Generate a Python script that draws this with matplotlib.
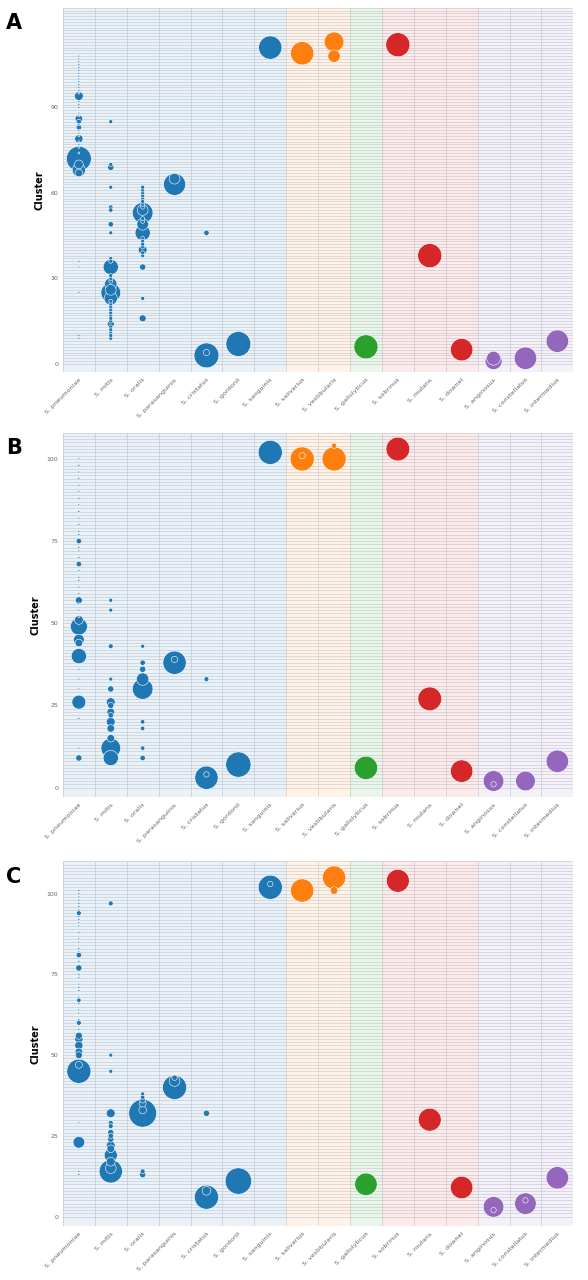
import matplotlib.pyplot as plt
import numpy as np

species = ["S. pneumoniae", "S. mitis", "S. oralis", "S. parasanguinis", "S. cristatus",
           "S. gordonii", "S. sanguinis", "S. salivarius", "S. vestibularis", "S. gallolyticus",
           "S. sobrinus", "S. mutans", "S. downei", "S. anginosus", "S. constellatus",
           "S. intermedius"]
group_of = [0, 0, 0, 0, 0, 0, 0, 1, 1, 2, 3, 3, 3, 4, 4, 4]
group_colors = ["#1f77b4", "#ff7f0e", "#2ca02c", "#d62728", "#9467bd"]

# panel A: (species index, cluster, size)
pts_a = [(0, c, 2) for c in [10, 9, 25, 34, 36, 74, 76, 77, 78, 80, 81, 82, 84, 87, 88, 90, 91, 92,
                              95, 96, 97, 98, 99, 100, 101, 102, 103, 104, 105, 106, 107, 108]]
pts_a += [(0, 72, 320), (0, 68, 90), (0, 67, 30), (0, 94, 40), (0, 86, 30), (0, 79, 35), (0, 83, 15),
          (0, 85, 12), (0, 70, 40)]
pts_a += [(1, c, 8) for c in [9, 10, 11, 12, 13, 15, 16, 17, 18, 19, 20, 21, 22, 29, 30, 31, 36, 37]]
pts_a += [(1, 85, 8), (1, 70, 8), (1, 69, 20), (1, 62, 8), (1, 55, 10), (1, 54, 10), (1, 49, 15),
          (1, 46, 8), (1, 25, 200), (1, 23, 90), (1, 34, 120), (1, 28, 80), (1, 14, 25), (1, 26, 60)]
pts_a += [(2, c, 8) for c in [62, 61, 60, 59, 58, 57, 56, 55, 51, 50, 44, 43, 42, 41, 39, 38]]
pts_a += [(2, 53, 220), (2, 46, 120), (2, 49, 70), (2, 40, 40), (2, 34, 20), (2, 23, 8), (2, 16, 25),
          (2, 54, 60)]
pts_a += [(3, 63, 250), (3, 65, 60), (4, 3, 320), (4, 4, 20), (4, 46, 15), (5, 7, 320),
          (6, 111, 280), (7, 109, 280), (8, 113, 200), (8, 108, 80), (9, 6, 300), (10, 112, 300),
          (11, 38, 300), (12, 5, 260), (13, 1, 150), (13, 2, 100), (14, 2, 260), (15, 8, 260)]

pts_b = [(0, c, 2) for c in [12, 21, 30, 33, 36, 52, 54, 56, 59, 61, 63, 64, 66, 70, 72, 73, 77, 78,
                              80, 82, 84, 86, 88, 90, 92, 94, 96, 98, 100]]
pts_b += [(0, 49, 150), (0, 40, 120), (0, 45, 60), (0, 26, 100), (0, 9, 20), (0, 57, 25), (0, 68, 15),
          (0, 75, 15), (0, 51, 40), (0, 44, 30)]
pts_b += [(1, 57, 8), (1, 54, 8), (1, 43, 12), (1, 33, 8), (1, 30, 20), (1, 26, 40), (1, 23, 30),
          (1, 20, 40), (1, 18, 30), (1, 15, 30), (1, 12, 200), (1, 9, 120), (1, 22, 15), (1, 25, 20)]
pts_b += [(2, 43, 8), (2, 38, 15), (2, 33, 80), (2, 30, 220), (2, 36, 20), (2, 20, 10), (2, 18, 10),
          (2, 12, 10), (2, 9, 15)]
pts_b += [(3, 38, 280), (3, 39, 20), (4, 3, 280), (4, 4, 15), (4, 33, 12), (5, 7, 330),
          (6, 102, 300), (7, 100, 300), (7, 101, 20), (8, 100, 300), (8, 104, 15), (9, 6, 280),
          (10, 103, 290), (11, 27, 290), (12, 5, 260), (13, 2, 220), (13, 1, 15), (14, 2, 200), (15, 8, 260)]

pts_c = [(0, c, 2) for c in [13, 14, 29, 58, 61, 63, 64, 66, 68, 70, 71, 72, 74, 75, 79, 82, 83, 85,
                              86, 88, 90, 91, 92, 93, 95, 96, 97, 98, 99, 100, 101]]
pts_c += [(0, 45, 300), (0, 23, 70), (0, 47, 25), (0, 50, 25), (0, 51, 30), (0, 53, 35), (0, 55, 35),
          (0, 56, 25), (0, 60, 12), (0, 67, 10), (0, 77, 20), (0, 81, 15), (0, 94, 12)]
pts_c += [(1, 97, 12), (1, 50, 8), (1, 45, 8), (1, 32, 40), (1, 29, 12), (1, 28, 12), (1, 26, 20),
          (1, 25, 15), (1, 24, 20), (1, 22, 40), (1, 21, 30), (1, 19, 90), (1, 17, 40), (1, 15, 60),
          (1, 14, 280)]
pts_c += [(2, 38, 8), (2, 37, 10), (2, 36, 15), (2, 35, 25), (2, 33, 30), (2, 32, 400), (2, 14, 12),
          (2, 13, 20)]
pts_c += [(3, 40, 300), (3, 42, 60), (3, 43, 15), (4, 6, 300), (4, 8, 40), (4, 32, 20), (5, 11, 360),
          (6, 102, 300), (6, 103, 15), (7, 101, 280), (8, 105, 280), (8, 101, 30), (9, 10, 260),
          (10, 104, 270), (11, 30, 270), (12, 9, 260), (13, 3, 220), (13, 2, 15), (14, 4, 240),
          (14, 5, 15), (15, 12, 260)]

panels = [("A", pts_a, (-3, 125), [0, 30, 60, 90], 125),
          ("B", pts_b, (-3, 108), [0, 25, 50, 75, 100], 108),
          ("C", pts_c, (-3, 110), [0, 25, 50, 75, 100], 110)]

fig = plt.figure(figsize=(5.88, 12.8), dpi=100)
tops = [0.994, 0.662, 0.327]
for (letter, pts, ylim, ticks, ymax), top in zip(panels, tops):
    ax = fig.add_axes([0.107, top - 0.285, 0.868, 0.285])
    # group shading
    start = 0
    for g in range(5):
        n = group_of.count(g)
        ax.axvspan(start - 0.5, start + n - 0.5, color=group_colors[g], alpha=0.09, lw=0)
        start += n
    for c in range(0, ymax + 1):
        ax.axhline(c, color="#c8ccd4", lw=0.4, zorder=0.5)
    for i in range(len(species) + 1):
        ax.axvline(i - 0.5, color="#d0d3da", lw=0.5, zorder=0.5)
    x = [p[0] for p in pts]
    y = [p[1] for p in pts]
    s = [p[2] for p in pts]
    cols = [group_colors[group_of[i]] for i in x]
    order = np.argsort(s)[::-1]
    ax.scatter(np.array(x)[order], np.array(y)[order], s=np.array(s)[order],
               c=np.array(cols)[order], edgecolors="white", linewidths=0.4, zorder=3)
    ax.set_xlim(-0.5, len(species) - 0.5)
    ax.set_ylim(*ylim)
    ax.set_yticks(ticks)
    ax.set_xticks(range(len(species)))
    ax.set_xticklabels(species, rotation=45, ha="right", rotation_mode="anchor",
                       fontsize=4.6, color="#666666")
    ax.tick_params(axis="y", labelsize=4.5, labelcolor="#666666", length=0)
    ax.tick_params(axis="x", length=0)
    ax.set_ylabel("Cluster", fontsize=7, fontweight="bold")
    for sp in ax.spines.values():
        sp.set_visible(False)
    fig.text(0.01, top - 0.012, letter, fontsize=15, fontweight="bold", va="center")

fig.savefig("out.png", dpi=100)
